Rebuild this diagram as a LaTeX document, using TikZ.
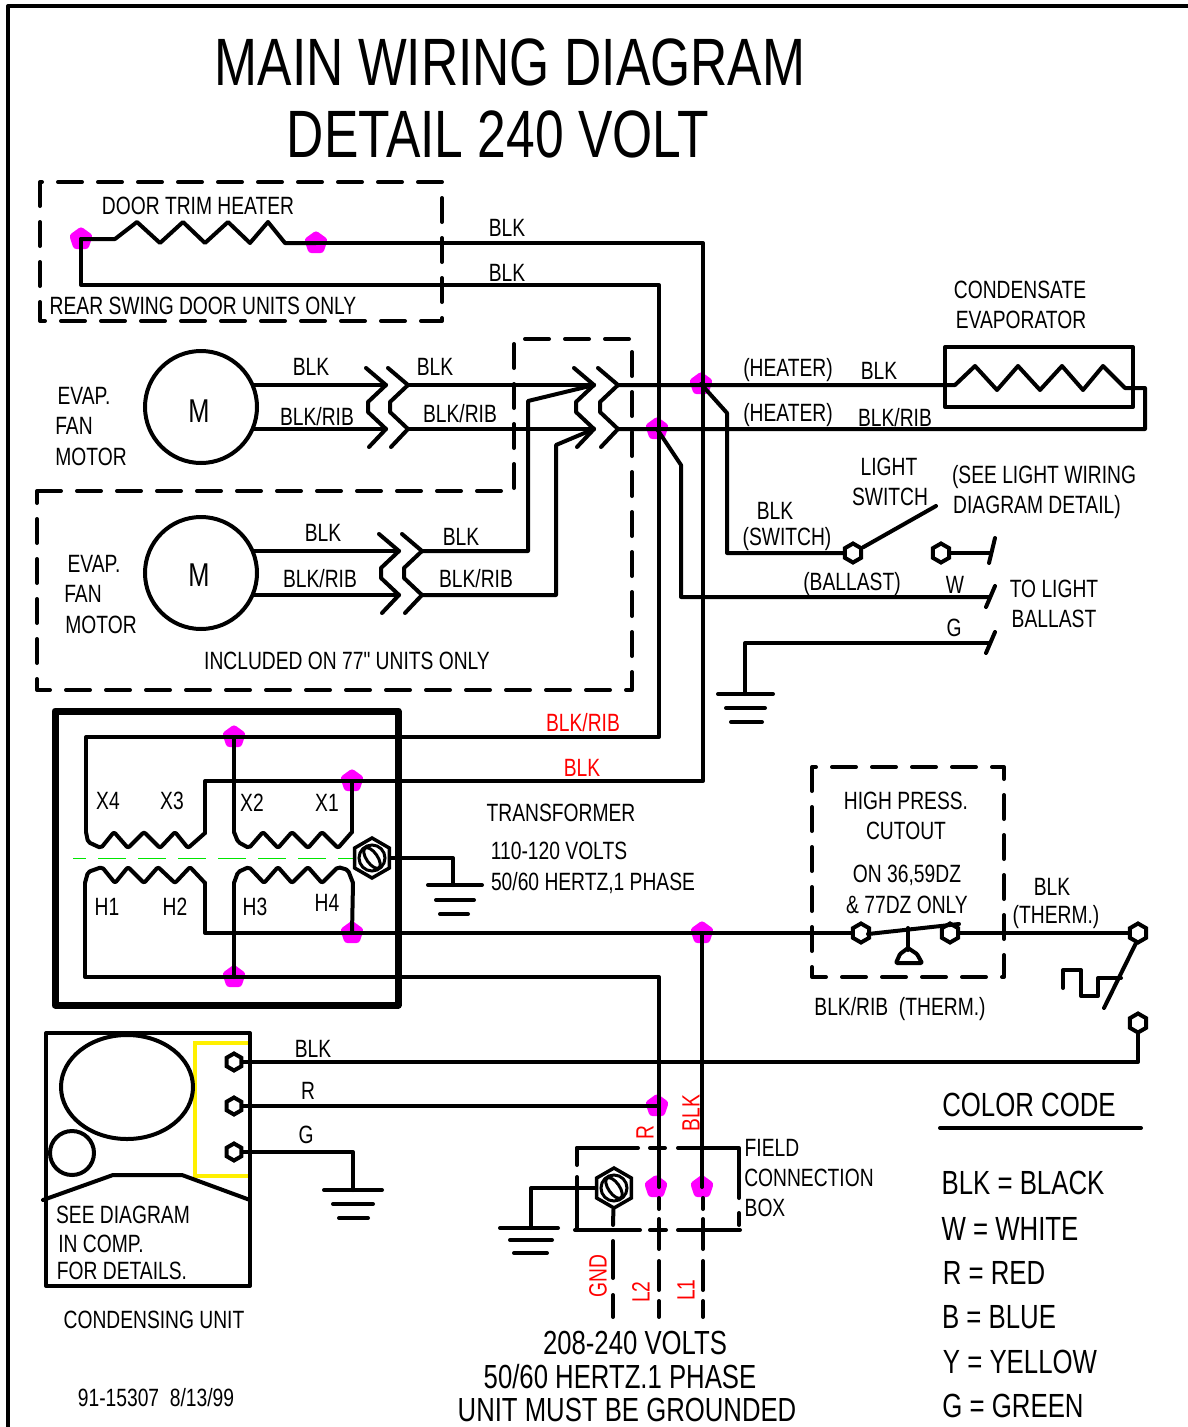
\documentclass[tikz,border=0pt]{standalone}
\usepackage{fontspec}
\newfontfamily\lf{Liberation Sans}[FakeStretch=0.77]
\usetikzlibrary{shapes.geometric,calc}
\definecolor{dotmag}{RGB}{255,0,255}
\definecolor{wirered}{RGB}{255,0,0}
\definecolor{coreg}{RGB}{0,230,0}
\definecolor{capy}{RGB}{255,240,0}
\newcommand{\fsz}[1]{\lf\fontsize{#1}{#1}\selectfont}
\tikzset{
  wire/.style={line width=4pt,black,line join=round,line cap=round},
  thickbox/.style={line width=7pt,black,line join=round,line cap=round},
  dashbox/.style={line width=4pt,black,line join=round,line cap=round,dash pattern=on 24pt off 16pt},
  lab/.style={inner sep=0pt,outer sep=0pt,text=black,font=\fsz{25}},
  big/.style={lab,font=\fsz{33.4}},
  huge/.style={lab,font=\fsz{67}},
  code/.style={lab,font=\fsz{33.5}},
  redlab/.style={lab,text=wirered},
  junction/.style={regular polygon,regular polygon sides=5,draw=dotmag,line width=8pt,line join=round,fill=dotmag,inner sep=0pt,minimum size=15pt},
  term/.style={regular polygon,regular polygon sides=6,shape border rotate=30,draw=black,line width=4pt,fill=white,inner sep=0pt,minimum size=19pt},
  bolt/.style={regular polygon,regular polygon sides=6,shape border rotate=30,draw=black,line width=3.5pt,fill=white,inner sep=0pt,minimum size=40pt},
  motor/.style={circle,draw=black,line width=4pt,inner sep=0pt,minimum size=112pt},
}
\newcommand{\boltmarks}[1]{%
  \draw[line width=3pt] (#1) circle (13pt);
  \draw[line width=3pt,rotate around={35:(#1)}] (#1) ellipse (5.5pt and 12pt);}
\newcommand{\chevleft}[2]{%
  \draw[wire] (#1-20,#2-17) -- (#1,#2) -- (#1-18,#2+17) -- (#1-18,#2+27) -- (#1,#2+44) -- (#1-17,#2+62);}
\begin{document}
\begin{tikzpicture}[x=1pt,y=-1pt]
\useasboundingbox (0,0) rectangle (1188,1427);
\fill[white] (0,0) rectangle (1188,1427);
% frame
\coordinate (fTL) at (8,6);
\coordinate (fTR) at (1188,6);
\coordinate (fBL) at (8,1427);
\draw[wire,line cap=butt] (fTR) -- (fTL) -- (fBL);
% titles
\node[huge] (t1) at (510,62) {MAIN WIRING DIAGRAM};
\node[huge] (t2) at (498,134) {DETAIL 240 VOLT};
% junctions (under the wires)
\node[junction] (jA) at (81,239) {};
\node[junction] (jB) at (316,243) {};
\node[junction] (jC) at (701,384) {};
\node[junction] (jD) at (657,429) {};
\node[junction] (jE) at (234,737) {};
\node[junction] (jF) at (352,781) {};
\node[junction] (jG) at (352,933) {};
\node[junction] (jH) at (702,933) {};
\node[junction] (jI) at (234,977) {};
\node[junction] (jJ) at (657,1106) {};
\node[junction] (jK) at (656,1187) {};
\node[junction] (jL) at (702,1187) {};
% dashed boxes
\draw[dashbox] (40,182) rectangle (442,321);
\draw[dashbox] (37,491) -- (514,491) -- (514,339) -- (632,339) -- (632,690) -- (37,690) -- cycle;
\draw[dashbox] (812,767) rectangle (1004,977);
% door heater
\draw[wire] (jA.center) -- (115,239) -- (137,222) -- (160,243) -- (183,222) -- (205,243) -- (228,222) -- (250,243) -- (268,222) -- (285,243) -- (jB.center);
\draw[wire] (jB.center) -- (703,243) -- (703,781) -- (205,781) -- (205,833);
\draw[wire] (jA.center) -- (81,285) -- (659,285) -- (659,737) -- (86,737) -- (86,832);
\node[lab] (l1) at (198,206) {DOOR TRIM HEATER};
\node[lab] (l2) at (203,306) {REAR SWING DOOR UNITS ONLY};
\node[lab] (l3) at (507,228) {BLK};
\node[lab] (l4) at (507,273) {BLK};
% motors
\node[motor] (m1) at (201,407) {};
\node[motor] (m2) at (201,573) {};
\node[lab,font=\fsz{33}] (mt1) at (199,411) {M};
\node[lab,font=\fsz{33}] (mt2) at (199,575) {M};
\coordinate (m1a) at (253,385);
\coordinate (m1b) at (253,429);
\coordinate (m2a) at (253,551);
\coordinate (m2b) at (253,595);
\chevleft{386}{385}
\chevleft{408}{385}
\chevleft{594}{385}
\chevleft{618}{385}
\chevleft{399}{551}
\chevleft{422}{551}
\draw[wire] (m1a) -- (386,385);
\draw[wire] (m1b) -- (386,429);
\draw[wire] (408,385) -- (594,385);
\draw[wire] (408,429) -- (594,429);
\draw[wire] (m2a) -- (399,551);
\draw[wire] (m2b) -- (399,595);
\draw[wire] (422,551) -- (528,551) -- (528,401) -- (594,385);
\draw[wire] (422,595) -- (556,595) -- (556,445) -- (594,429);
\node[lab] (e1) at (84,396) {EVAP.};
\node[lab] (e2) at (74,426) {FAN};
\node[lab] (e3) at (91,457) {MOTOR};
\node[lab] (e4) at (94,564) {EVAP.};
\node[lab] (e5) at (83,594) {FAN};
\node[lab] (e6) at (101,625) {MOTOR};
\node[lab] (b1) at (311,367) {BLK};
\node[lab] (b2) at (317,417) {BLK/RIB};
\node[lab] (b3) at (435,367) {BLK};
\node[lab] (b4) at (460,414) {BLK/RIB};
\node[lab] (b5) at (323,533) {BLK};
\node[lab] (b6) at (320,579) {BLK/RIB};
\node[lab] (b7) at (461,537) {BLK};
\node[lab] (b8) at (476,579) {BLK/RIB};
\node[lab] (inc) at (347,661) {INCLUDED ON 77" UNITS ONLY};
% evaporator
\draw[wire] (945,347) rectangle (1133,407);
\draw[wire] (618,385) -- (955,385) -- (975,366) -- (997,390) -- (1018,366) -- (1040,390) -- (1062,366) -- (1083,390) -- (1103,366) -- (1125,388) -- (1145,388) -- (1145,429) -- (618,429);
\node[lab] (h1) at (788,370) {(HEATER)};
\node[lab] (h2) at (788,415) {(HEATER)};
\node[lab] (h3) at (879,371) {BLK};
\node[lab] (h4) at (895,418) {BLK/RIB};
\node[lab] (h5) at (1020,290) {CONDENSATE};
\node[lab] (h6) at (1021,320) {EVAPORATOR};
% light switch
\node[term] (s1) at (853,553) {};
\node[term] (s2) at (941,553) {};
\coordinate (swEnd) at (936,506);
\coordinate (wEnd) at (990,597);
\coordinate (sEnd) at (990,553);
\coordinate (gEnd) at (990,643);
\coordinate (g1) at (745,694);
\draw[wire] (jC.center) -- (727,413) -- (727,553) -- (s1);
\draw[wire] (jD.center) -- (681,465) -- (681,597) -- (wEnd);
\draw[wire] (s1) -- (swEnd);
\draw[wire] (s2) -- (sEnd);
\draw[wire] (gEnd) -- (745,643) -- (g1);
\draw[wire] (989,563) -- (995,538);
\draw[wire] (986,607) -- (995,586);
\draw[wire] (986,653) -- (995,632);
\draw[wire] (718,694) -- (773,694);
\draw[wire] (726,708) -- (765,708);
\draw[wire] (731,722) -- (762,722);
\node[lab] (n1) at (889,467) {LIGHT};
\node[lab] (n2) at (890,497) {SWITCH};
\node[lab] (n3) at (1044,477) {(SEE LIGHT WIRING};
\node[lab] (n4) at (1037,507) {DIAGRAM DETAIL)};
\node[lab] (n5) at (775,511) {BLK};
\node[lab] (n6) at (787,539) {(SWITCH)};
\node[lab] (n7) at (852,584) {(BALLAST)};
\node[lab] (n8) at (955,585) {W};
\node[lab] (n9) at (954,628) {G};
\node[lab] (n10) at (1054,589) {TO LIGHT};
\node[lab] (n11) at (1054,619) {BALLAST};
% transformer
\draw[thickbox] (55,711) rectangle (398,1005);
\draw[coreg,line width=1pt,dash pattern=on 28pt off 12pt,dash phase=15pt] (73,858) -- (356,858);
\draw[wire] (jE.center) -- (234,832);
\draw[wire] (jF.center) -- (352,832);
\draw[wire,rounded corners=2pt] (86,832) -- (88,842) -- (101,848) -- (114,832) -- (128,848) -- (144,832) -- (160,848) -- (175,832) -- (188,848) -- (205,833);
\draw[wire,rounded corners=2pt] (234,832) -- (238,842) -- (249,848) -- (263,832) -- (278,848) -- (292,832) -- (308,848) -- (322,832) -- (338,848) -- (352,832);
\draw[wire,rounded corners=2pt] (85,883) -- (88,872) -- (102,867) -- (115,883) -- (128,867) -- (144,883) -- (158,867) -- (175,883) -- (190,867) -- (205,883);
\draw[wire,rounded corners=2pt] (234,883) -- (238,872) -- (249,867) -- (264,883) -- (278,867) -- (292,883) -- (308,867) -- (322,883) -- (338,867) -- (348,870) -- (353,883);
\draw[wire] (85,883) -- (85,977) -- (659,977) -- (659,1187);
\draw[wire] (jI.center) -- (234,883);
\draw[wire] (353,883) -- (jG.center);
\node[bolt] (bt1) at (372,858) {};
\boltmarks{bt1}
\node[term] (th1) at (861,933) {};
\node[term] (th2) at (950,933) {};
\node[term] (th3) at (1138,933) {};
\node[term] (th4) at (1138,1023) {};
\draw[wire] (205,883) -- (205,933) -- (th1);
\draw[wire] (jH.center) -- (jL.center);
\draw[wire] (th2) -- (th3);
\coordinate (g2) at (453,885);
\draw[wire] (bt1) -- (453,858) -- (g2);
\draw[wire] (428,885) -- (482,885);
\draw[wire] (436,900) -- (474,900);
\draw[wire] (440,914) -- (468,914);
\node[lab] (x4) at (108,801) {X4};
\node[lab] (x3) at (172,801) {X3};
\node[lab] (x2) at (252,803) {X2};
\node[lab] (x1) at (327,803) {X1};
\node[lab] (hh1) at (107,907) {H1};
\node[lab] (hh2) at (175,907) {H2};
\node[lab] (hh3) at (255,907) {H3};
\node[lab] (hh4) at (327,903) {H4};
\node[redlab] (r1) at (583,723) {BLK/RIB};
\node[redlab] (r2) at (582,768) {BLK};
\node[lab] (tr1) at (561,813) {TRANSFORMER};
\node[lab] (tr2) at (559,851) {110-120 VOLTS};
\node[lab] (tr3) at (593,883) {50/60 HERTZ,1 PHASE};
% high pressure cutout
\draw[wire] (868,934) -- (959,924);
\draw[wire] (908,928) -- (908,950);
\draw[wire,rounded corners=1pt] (896,963) -- (900,954) -- (908,948) -- (917,954) -- (922,963) -- cycle;
\draw[wire] (1136,943) -- (1104,1008);
\draw[wire] (1063,988) -- (1063,970) -- (1081,970) -- (1081,996) -- (1098,996) -- (1098,978) -- (1121,978);
\node[lab] (c1) at (906,801) {HIGH PRESS.};
\node[lab] (c2) at (906,831) {CUTOUT};
\node[lab] (c3) at (907,875) {ON 36,59DZ};
\node[lab] (c4) at (907,905) {\& 77DZ ONLY};
\node[lab] (c5) at (1052,887) {BLK};
\node[lab] (c6) at (1056,917) {(THERM.)};
\node[lab] (c7) at (900,1009) {BLK/RIB\ \ (THERM.)};
% condensing unit
\draw[capy,line width=4pt] (250,1043) -- (195,1043) -- (195,1176) -- (250,1176);
\draw[wire] (46,1033) rectangle (250,1286);
\draw[wire] (127,1087) ellipse (66pt and 52pt);
\draw[wire] (72,1153) circle (22pt);
\draw[wire] (43,1200) -- (113,1175) -- (182,1175) -- (250,1200);
\node[term,minimum size=17pt] (u1) at (234,1062) {};
\node[term,minimum size=17pt] (u2) at (234,1106) {};
\node[term,minimum size=17pt] (u3) at (234,1152) {};
\draw[wire] (u1) -- (1138,1062) -- (th4);
\draw[wire] (u2) -- (jJ.center);
\coordinate (g3) at (353,1190);
\draw[wire] (u3) -- (353,1152) -- (g3);
\draw[wire] (324,1190) -- (382,1190);
\draw[wire] (333,1204) -- (373,1204);
\draw[wire] (339,1218) -- (368,1218);
\node[lab] (u4) at (313,1049) {BLK};
\node[lab] (u5) at (308,1091) {R};
\node[lab] (u6) at (306,1135) {G};
\node[lab] (u7) at (123,1215) {SEE DIAGRAM};
\node[lab] (u8) at (101,1244) {IN COMP.};
\node[lab] (u9) at (122,1271) {FOR DETAILS.};
\node[lab] (u10) at (154,1320) {CONDENSING UNIT};
\node[lab] (u11) at (156,1398) {91-15307\ \ 8/13/99};
% field box
\draw[wire] (577,1148) -- (638,1148);
\draw[wire] (650,1148) -- (665,1148);
\draw[wire] (678,1148) -- (739,1148) -- (739,1198);
\draw[wire] (739,1213) -- (739,1225);
\draw[wire] (577,1148) -- (577,1165);
\draw[wire] (577,1177) -- (577,1230);
\draw[wire] (575,1230) -- (640,1230);
\draw[wire] (650,1230) -- (666,1230);
\draw[wire] (678,1230) -- (740,1230);
\node[bolt] (bt2) at (614,1188) {};
\boltmarks{bt2}
\coordinate (g4) at (531,1228);
\draw[wire] (bt2) -- (531,1188) -- (g4);
\draw[wire] (500,1228) -- (558,1228);
\draw[wire] (510,1240) -- (552,1240);
\draw[wire] (514,1253) -- (547,1253);
\draw[wire] (bt2) -- (613,1225);
\draw[wire] (613,1241) -- (613,1278);
\draw[wire] (613,1295) -- (613,1317);
\foreach \xx in {659,703}{
  \draw[wire] (\xx,1198) -- (\xx,1209);
  \draw[wire] (\xx,1219) -- (\xx,1249);
  \draw[wire] (\xx,1261) -- (\xx,1290);
  \draw[wire] (\xx,1301) -- (\xx,1317);
}
\node[redlab,rotate=90] (f1) at (645,1133) {R};
\node[redlab,rotate=90] (f2) at (691,1113) {BLK};
\node[redlab,rotate=90] (f3) at (598,1276) {GND};
\node[redlab,rotate=90] (f4) at (641,1292) {L2};
\node[redlab,rotate=90] (f5) at (686,1290) {L1};
\node[lab] (f6) at (772,1148) {FIELD};
\node[lab] (f7) at (809,1178) {CONNECTION};
\node[lab] (f8) at (765,1208) {BOX};
\node[big] (v1) at (635,1343) {208-240 VOLTS};
\node[big] (v2) at (620,1377) {50/60 HERTZ.1 PHASE};
\node[big] (v3) at (627,1410) {UNIT MUST BE GROUNDED};
% colour code
\node[code] (k0) at (1029,1105) {COLOR CODE};
\draw[wire] (940,1128) -- (1141,1128);
\node[code] (k1) at (1023,1183) {BLK = BLACK};
\node[code] (k2) at (1010,1229) {W = WHITE};
\node[code] (k3) at (994,1273) {R = RED};
\node[code] (k4) at (999,1317) {B = BLUE};
\node[code] (k5) at (1020,1362) {Y = YELLOW};
\node[code] (k6) at (1013,1406) {G = GREEN};
\end{tikzpicture}
\end{document}
